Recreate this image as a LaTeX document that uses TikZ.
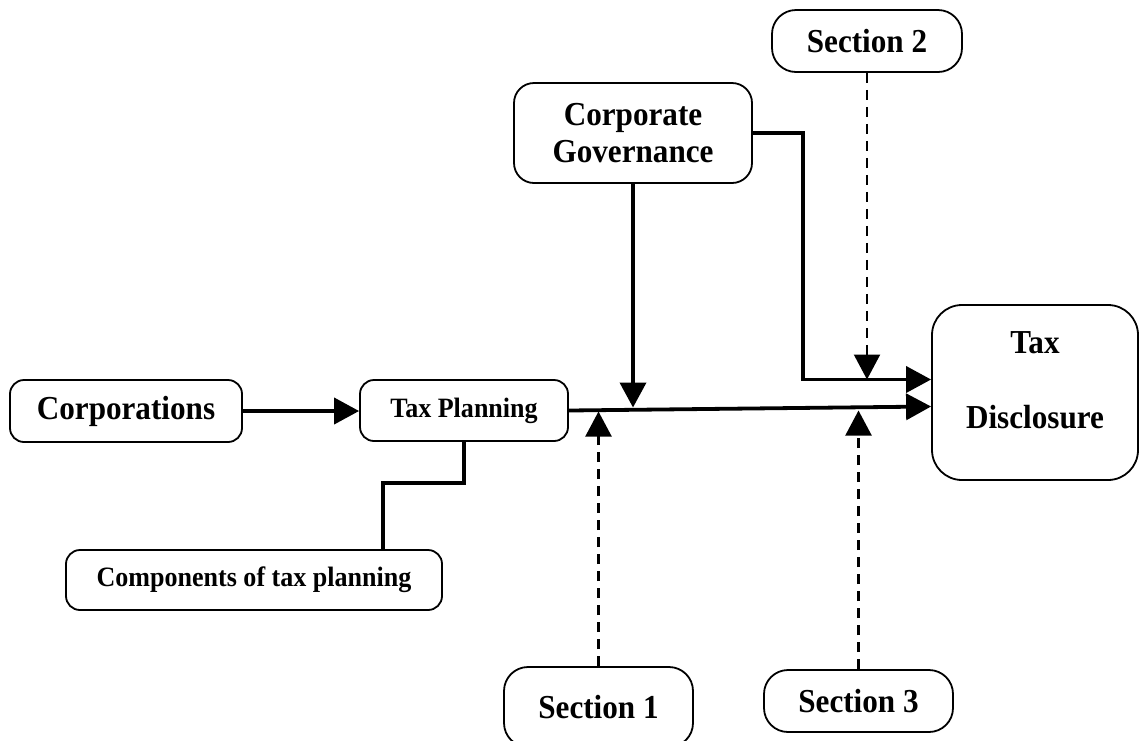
\documentclass[tikz,border=0pt]{standalone}
\usepackage{fontspec}
\setmainfont[FakeStretch=0.93]{Liberation Serif}
\usetikzlibrary{arrows.meta,calc}
\begin{document}
\begin{tikzpicture}[x=1pt,y=-1pt,
  box/.style={draw, line width=1.8pt, rounded corners=#1, align=center,
    font=\bfseries\fontsize{33.5}{37}\selectfont, inner sep=0pt},
  box/.default=14pt,
  small/.style={font=\bfseries\fontsize{28}{30}\selectfont},
  bigtext/.style={font=\bfseries\fontsize{33.5}{37}\selectfont, align=center, inner sep=0pt},
  conn/.style={line width=3.8pt},
  dconn/.style={line width=2.2pt, dash pattern=on 10pt off 7pt},
  tip/.style={-{Triangle[length=25pt,width=26pt]}}
]
\useasboundingbox (0,0) rectangle (1139,740);

\node[box, minimum width=232pt, minimum height=62pt] (corp) at (126,411) {Corporations};
\node[box, small, minimum width=208pt, minimum height=61pt] (tp) at (464,410.5) {Tax Planning};
\node[box, small, minimum width=376pt, minimum height=60pt] (comp) at (254,580) {Components of tax planning};
\node[box=20pt, minimum width=238pt, minimum height=100pt] (cg) at (633,133) {Corporate\\Governance};
\node[box=24pt, minimum width=190pt, minimum height=62pt] (s2) at (867,41) {Section 2};
\node[box=30pt, minimum width=206pt, minimum height=175pt] (td) at (1035,392.5) {};
\node[bigtext] (tdt) at (1035,380.5) {Tax\\[38pt]Disclosure};
\node[box=24pt, minimum width=189pt, minimum height=80pt] (s1) at (598.5,707) {Section 1};
\node[box=24pt, minimum width=189pt, minimum height=62pt] (s3) at (858.5,701) {Section 3};

\coordinate (t1) at ($(td.west)+(0,-13)$);
\coordinate (t2) at ($(td.west)+(0,14)$);

\draw[conn, tip] (corp.east) -- (corp.east -| tp.west);
\draw[conn] (tp.south) -- ++(0,41) -| ($(comp.north)+(129,0)$);
\draw[conn, tip] (cg.east) -| ($(t1)+(-128,0)$) -- (t1);
\draw[conn, tip] (tp.east) -- (t2);
\draw[conn, tip] (cg.south) -- ($(cg.south |- tp.east)+(0,-3)$);
\draw[dconn, tip] (s2.south) -- (s2.south |- t1);
\draw[dconn, tip] (s1.north) -- ($(s1.north |- tp.east)+(0,1)$);
\draw[dconn, tip] (s3.north) -- ($(s3.north |- t2)+(0,4)$);
\end{tikzpicture}
\end{document}
